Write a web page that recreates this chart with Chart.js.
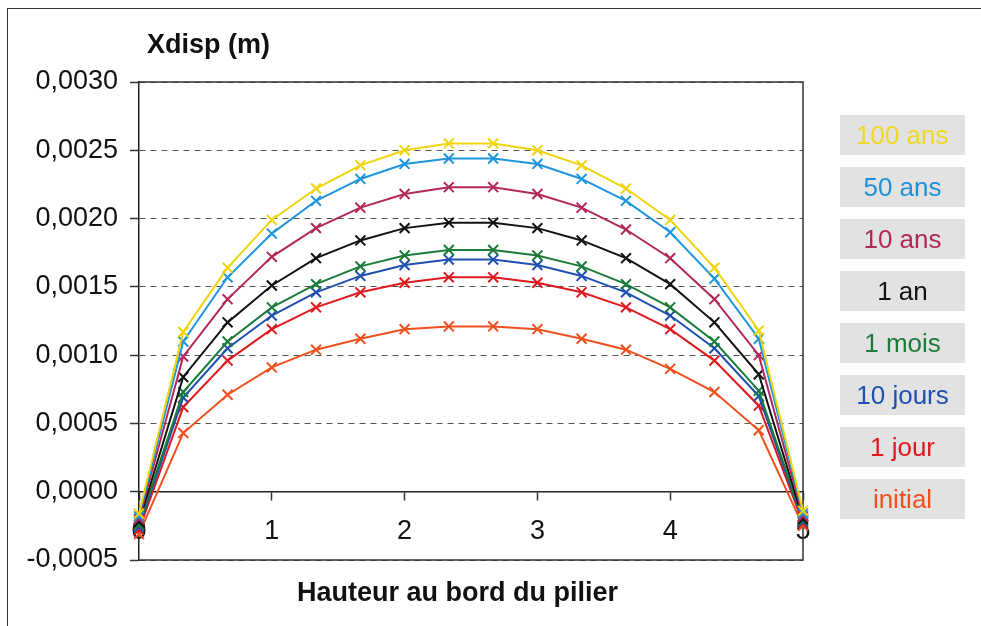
<!DOCTYPE html>
<html>
<head>
<meta charset="utf-8">
<script src="https://cdn.jsdelivr.net/npm/chart.js@4"></script>
<style>
  html, body { margin: 0; padding: 0; background: #fff; }
  #wrap { position: relative; width: 981px; height: 626px; overflow: hidden; font-family: "Liberation Sans", Arial, sans-serif; }
  #frame { position: absolute; left: 7px; top: 8px; width: 1100px; height: 800px; border-left: 1.5px solid #333; border-top: 1.5px solid #333; }
  canvas { position: absolute; left: 0; top: 0; }
  .title { position: absolute; font-weight: bold; font-size: 27px; line-height: 27px; color: #111; white-space: nowrap; }
  .leg { position: absolute; left: 840px; width: 125px; height: 40px; background: #e2e2e2; display: flex; align-items: center; justify-content: center; font-size: 26px; line-height: 26px; white-space: nowrap; }
</style>
</head>
<body>
<div id="wrap">
  <div id="frame"></div>
  <canvas id="c" width="981" height="626"></canvas>
  <div class="title" style="left:147px; top:31px;">Xdisp (m)</div>
  <div class="title" style="left:297px; top:579px;">Hauteur au bord du pilier</div>
  <div id="legend"></div>
</div>
<script>
// ---- data ----
const xPositions = [0, 0.333, 0.667, 1, 1.333, 1.667, 2, 2.333, 2.667, 3, 3.333, 3.667, 4, 4.333, 4.667, 5];
const seriesNames = ["100 ans", "50 ans", "10 ans", "1 an", "1 mois", "10 jours", "1 jour", "initial"];
const ans100  = [-0.00016, 0.00117, 0.00164, 0.00199, 0.00222, 0.00239, 0.00250, 0.00255, 0.00255, 0.00250, 0.00239, 0.00222, 0.00199, 0.00164, 0.00118, -0.00014];
const ans50   = [-0.00018, 0.00110, 0.00157, 0.00189, 0.00213, 0.00229, 0.00240, 0.00244, 0.00244, 0.00240, 0.00229, 0.00213, 0.00190, 0.00156, 0.00112, -0.00016];
const ans10   = [-0.00020, 0.00099, 0.00141, 0.00172, 0.00193, 0.00208, 0.00218, 0.00223, 0.00223, 0.00218, 0.00208, 0.00192, 0.00171, 0.00141, 0.00100, -0.00018];
const an1     = [-0.00022, 0.00084, 0.00124, 0.00151, 0.00171, 0.00184, 0.00193, 0.00197, 0.00197, 0.00193, 0.00184, 0.00171, 0.00152, 0.00124, 0.00086, -0.00020];
const mois1   = [-0.00024, 0.00073, 0.00110, 0.00135, 0.00152, 0.00165, 0.00173, 0.00177, 0.00177, 0.00173, 0.00165, 0.00152, 0.00135, 0.00110, 0.00074, -0.00021];
const jours10 = [-0.00026, 0.00069, 0.00105, 0.00129, 0.00146, 0.00158, 0.00166, 0.00170, 0.00170, 0.00166, 0.00158, 0.00146, 0.00129, 0.00105, 0.00070, -0.00022];
const jour1   = [-0.00028, 0.00062, 0.00096, 0.00119, 0.00135, 0.00146, 0.00153, 0.00157, 0.00157, 0.00153, 0.00146, 0.00135, 0.00119, 0.00096, 0.00063, -0.00023];
const initial = [-0.00031, 0.00043, 0.00071, 0.00091, 0.00104, 0.00112, 0.00119, 0.00121, 0.00121, 0.00119, 0.00112, 0.00104, 0.00090, 0.00073, 0.00045, -0.00025];
const seriesValues = [ans100, ans50, ans10, an1, mois1, jours10, jour1, initial];
const xTickValues = [0, 1, 2, 3, 4, 5];
const yTickValues = [-0.0005, 0, 0.0005, 0.001, 0.0015, 0.002, 0.0025, 0.003];

const colors = ["#f0d40c", "#1e96dc", "#b3285a", "#111111", "#1b7b3a", "#1f4fb0", "#e0191e", "#f0501e"];
const legendColors = ["#f0d828", "#1e90d8", "#b3285a", "#111111", "#1b7b3a", "#1f4fb0", "#e0191e", "#f0501e"];

// ---- legend (HTML) ----
const legend = document.getElementById('legend');
seriesNames.forEach((n, i) => {
  const d = document.createElement('div');
  d.className = 'leg';
  d.style.top = (115 + i * 52) + 'px';
  d.style.color = legendColors[i];
  d.textContent = n;
  legend.appendChild(d);
});

const datasets = seriesNames.map((name, i) => ({
  label: name,
  data: xPositions.map((x, k) => ({ x: x, y: seriesValues[i][k] })),
  borderColor: colors[i],
  backgroundColor: colors[i],
  borderWidth: 2,
  pointStyle: 'crossRot',
  pointRadius: 7,
  pointBorderWidth: 2,
  pointBorderColor: colors[i],
  fill: false,
  tension: 0,
  clip: false
}));

const plotBorder = {
  id: 'plotBorder',
  beforeDatasetsDraw(chart) {
    const { ctx, chartArea: a } = chart;
    ctx.save();
    ctx.strokeStyle = '#333';
    ctx.lineWidth = 1.5;
    ctx.beginPath();
    ctx.moveTo(a.left, a.top);
    ctx.lineTo(a.right, a.top);
    ctx.lineTo(a.right, a.bottom);
    ctx.lineTo(a.left, a.bottom);
    ctx.stroke();
    ctx.restore();
  }
};

const font = { family: '"Liberation Sans", Arial, sans-serif', size: 27 };

new Chart(document.getElementById('c'), {
  type: 'line',
  data: { datasets },
  plugins: [plotBorder],
  options: {
    responsive: false,
    devicePixelRatio: 1,
    animation: false,
    layout: { padding: { left: 0, top: 82, right: 178, bottom: 66 } },
    plugins: { legend: { display: false }, tooltip: { enabled: false }, title: { display: false } },
    scales: {
      x: {
        type: 'linear',
        position: { y: 0 },
        min: 0, max: 5,
        afterFit: s => { s.height = 0; },
        afterBuildTicks: s => { s.ticks = xTickValues.map(v => ({ value: v })); },
        ticks: { font, color: '#111', padding: 16, maxRotation: 0, autoSkip: false, callback: v => String(v) },
        grid: { drawOnChartArea: false, drawTicks: true, tickLength: 8, tickColor: '#333', tickWidth: 1.5 },
        border: { display: true, color: '#222', width: 1.5 }
      },
      y: {
        type: 'linear',
        position: 'left',
        min: -0.0005, max: 0.003,
        afterFit: s => { s.width = 139; },
        afterBuildTicks: s => { s.ticks = yTickValues.map(v => ({ value: v })); },
        ticks: { font, color: '#111', padding: 12, callback: v => Number(v).toFixed(4).replace('.', ',') },
        grid: { color: '#555', lineWidth: 1, drawTicks: true, tickLength: 9, tickColor: '#333', tickWidth: 1.5 },
        border: { display: true, color: '#222', width: 1.5, dash: [6, 5] }
      }
    }
  }
});
</script>
</body>
</html>
